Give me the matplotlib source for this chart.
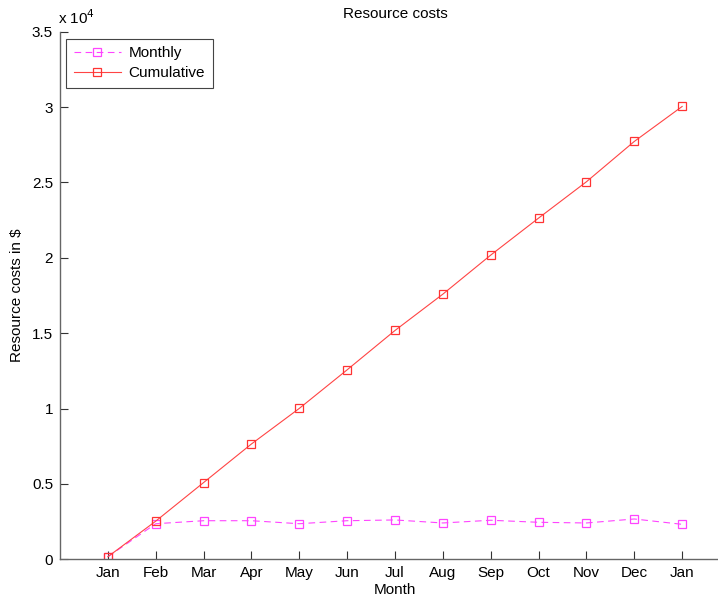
import matplotlib
matplotlib.use("Agg")
import matplotlib.pyplot as plt

plt.rcParams["font.family"] = ["Liberation Sans", "DejaVu Sans"]
plt.rcParams["font.size"] = 11

months = ["Jan", "Feb", "Mar", "Apr", "May", "Jun", "Jul",
          "Aug", "Sep", "Oct", "Nov", "Dec", "Jan"]
monthly = [170, 2360, 2560, 2560, 2360, 2560, 2610,
           2410, 2590, 2455, 2410, 2675, 2320]
cumulative = [170, 2530, 5090, 7650, 10010, 12570, 15180,
              17590, 20180, 22635, 25045, 27720, 30040]
yticks = [0, 5000, 10000, 15000, 20000, 25000, 30000, 35000]
ytick_labels = ["0", "0.5", "1", "1.5", "2", "2.5", "3", "3.5"]

fig = plt.figure(figsize=(7.18, 6.06), dpi=100)
ax = fig.add_axes([60 / 718, 46.7 / 606, 670 / 718, 527.6 / 606])

x = list(range(1, len(months) + 1))
ax.plot(x, monthly, linestyle="--", color="#ff44ff", lw=0.8, marker="s",
        ms=5.5, mfc="none", mec="#ff44ff", mew=0.9, dashes=(6, 4), label="Monthly")
ax.plot(x, cumulative, linestyle="-", color="#ff4444", lw=0.8, marker="s",
        ms=5.5, mfc="none", mec="#ff3333", mew=0.9, label="Cumulative")

ax.set_xlim(0, 14)
ax.set_ylim(0, 35000)
ax.set_xticks(x)
ax.set_xticklabels(months)
ax.set_yticks(yticks)
ax.set_yticklabels(ytick_labels)
ax.tick_params(direction="in", length=6, width=0.8, color="#333333", pad=5)

for side in ("top", "right"):
    ax.spines[side].set_visible(False)
for side in ("left", "bottom"):
    ax.spines[side].set_color("#666666")
    ax.spines[side].set_linewidth(1.0)

ax.text(-0.003, 1.008, r"x 10$^4$", transform=ax.transAxes, ha="left", va="bottom",
        fontsize=11)
ax.set_title("Resource costs", fontsize=11, pad=10)
ax.set_xlabel("Month", labelpad=2)
ax.set_ylabel(r"Resource costs in \$", labelpad=6)

leg = ax.legend(loc="upper left", bbox_to_anchor=(0.009, 0.987), borderaxespad=0,
                fancybox=False, framealpha=1, edgecolor="#444444", handlelength=3.1,
                handletextpad=0.5, borderpad=0.5, labelspacing=0.4, fontsize=11)
leg.get_frame().set_linewidth(0.8)

fig.savefig("out.png", dpi=100)
